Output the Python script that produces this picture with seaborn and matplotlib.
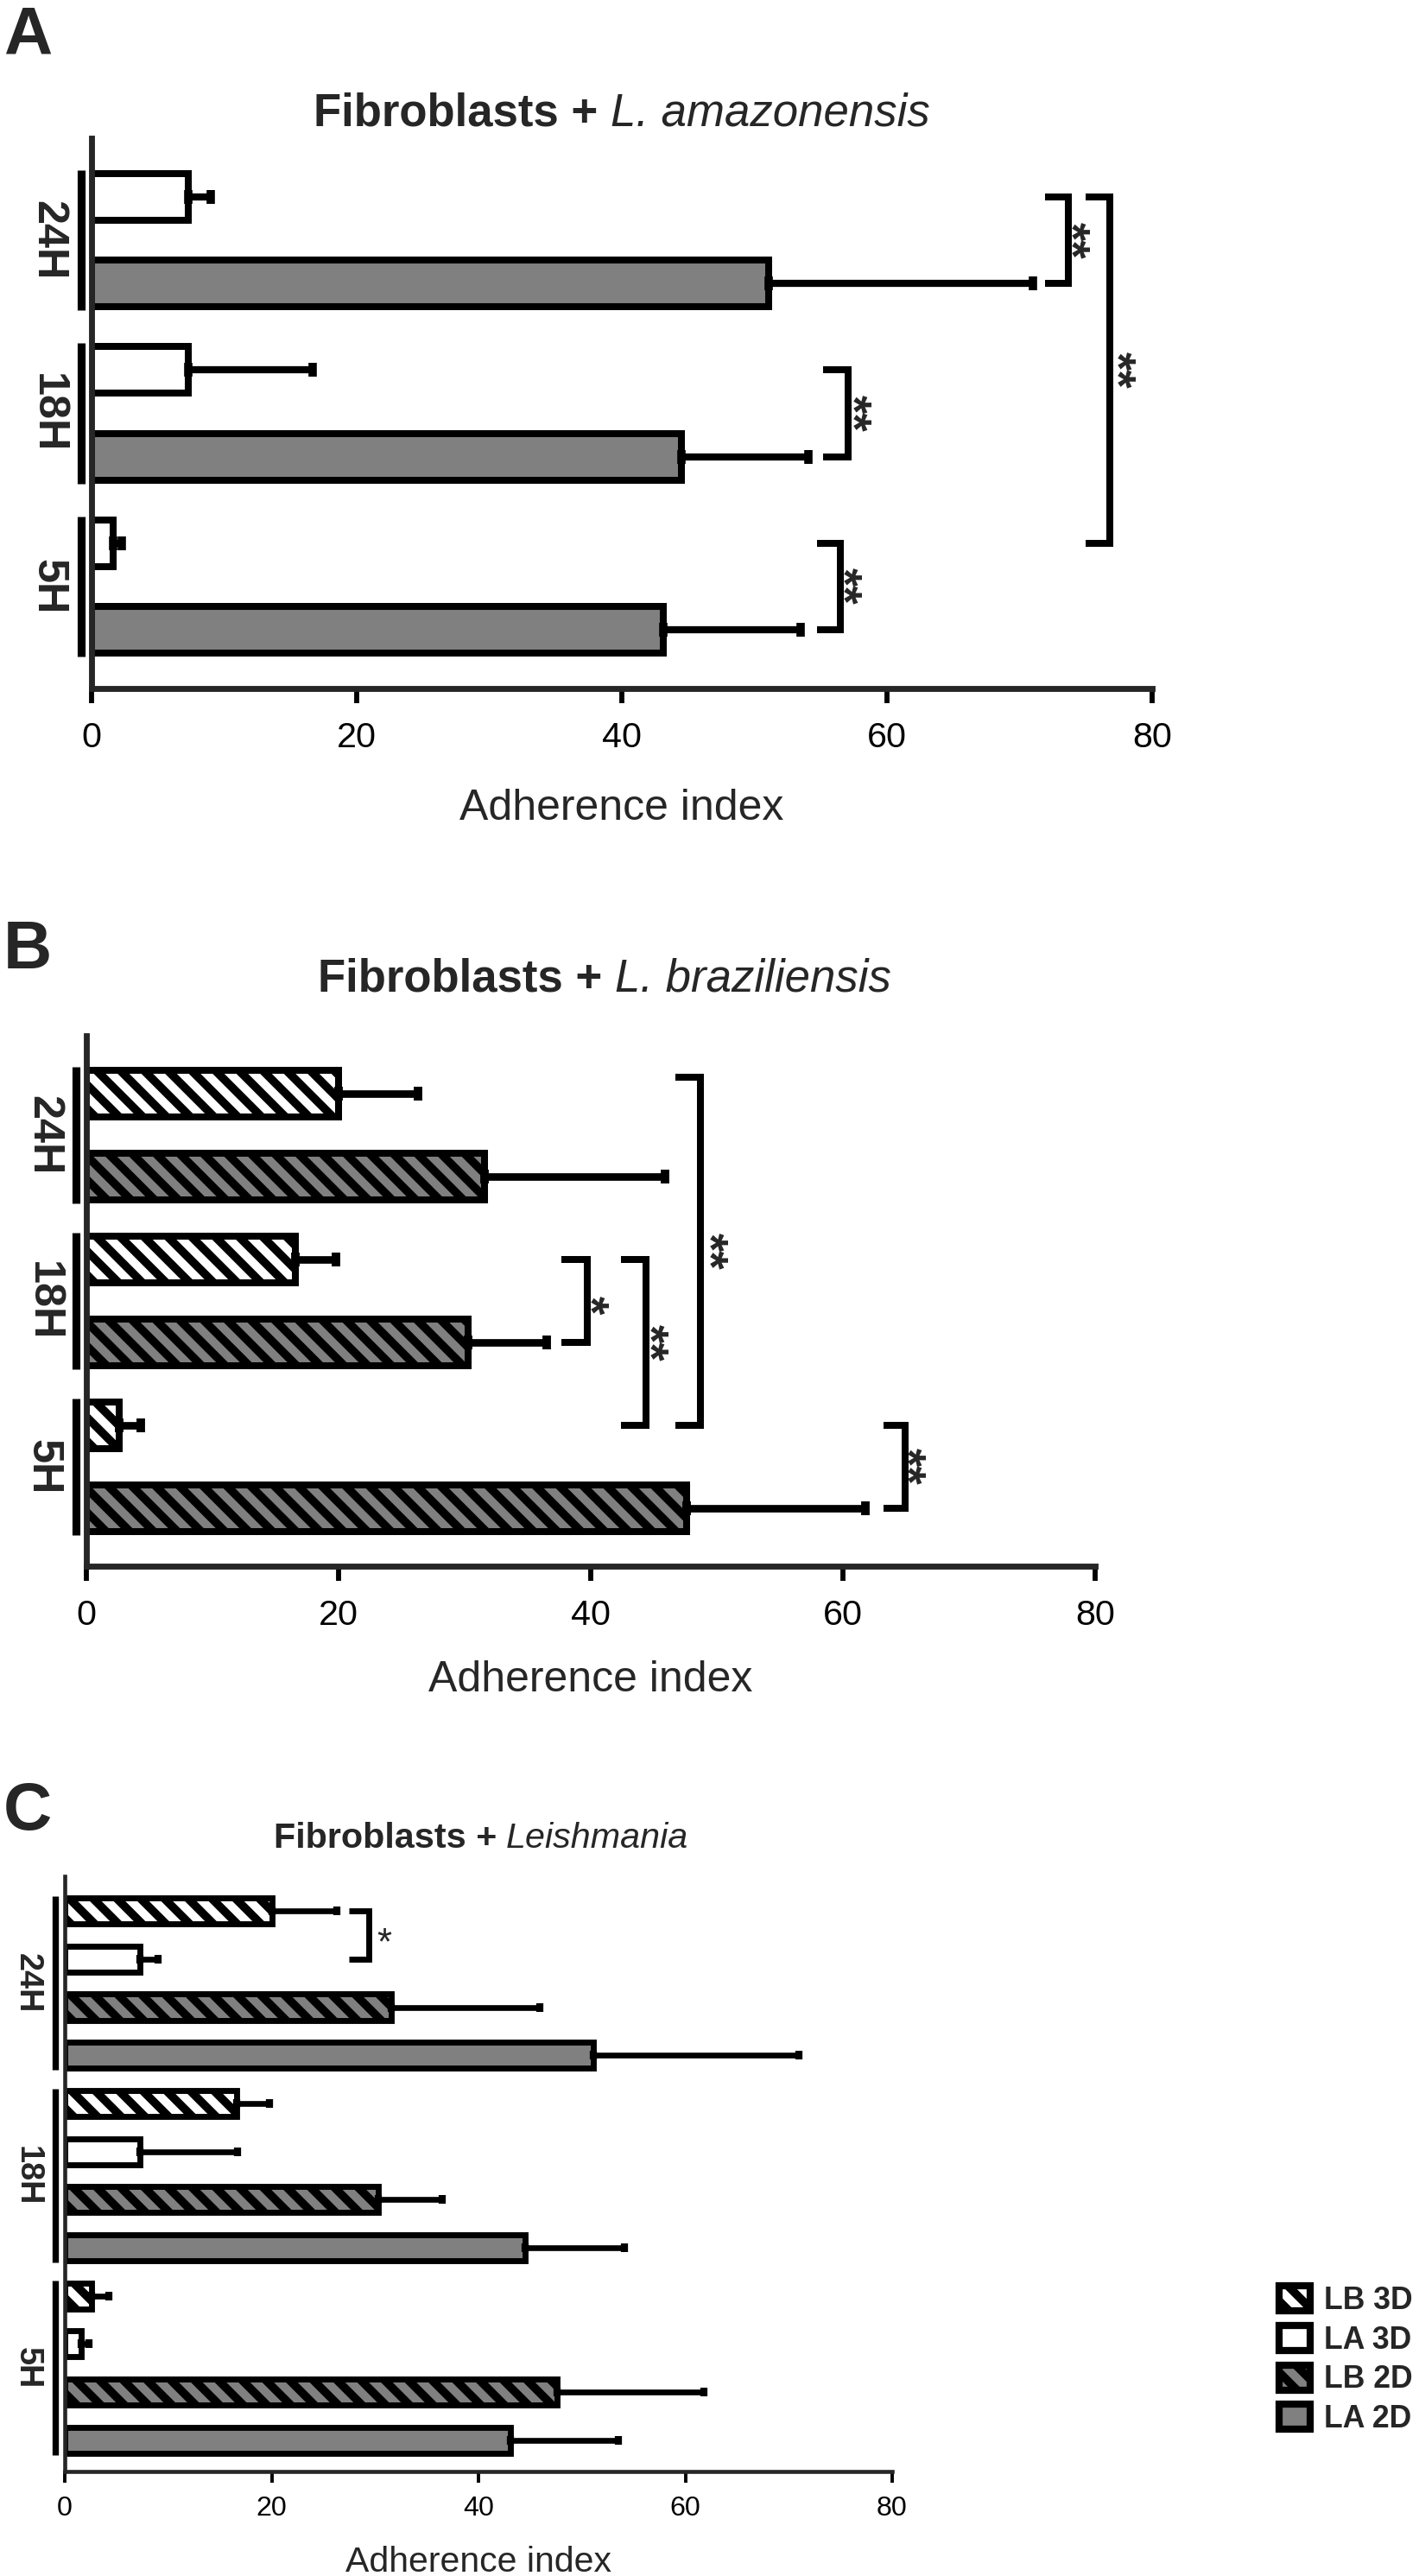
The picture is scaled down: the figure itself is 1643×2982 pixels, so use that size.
import numpy as np
import pandas as pd
import matplotlib
matplotlib.use("Agg")
import matplotlib.pyplot as plt
import matplotlib.transforms as mtransforms
from matplotlib.patches import Patch
import seaborn as sns

# ---------------- data ----------------
times = ["24H", "18H", "5H"]
xticks = [0, 20, 40, 60, 80]
xlabel = "Adherence index"

la3d_mean = [7.3, 7.3, 1.6]
la3d_sd = [1.7, 9.4, 0.7]
la2d_mean = [51.1, 44.5, 43.1]
la2d_sd = [19.9, 9.6, 10.4]
lb3d_mean = [20.0, 16.6, 2.6]
lb3d_sd = [6.3, 3.2, 1.7]
lb2d_mean = [31.6, 30.3, 47.6]
lb2d_sd = [14.3, 6.2, 14.2]

series_names = ["LB 3D", "LA 3D", "LB 2D", "LA 2D"]

# ---------------- styles ----------------
W, H, DPI = 1643, 2982, 165
GRAY = "#808080"
HATCH = "\\\\"
STYLE = {"LB 3D": ("white", HATCH), "LA 3D": ("white", ""),
         "LB 2D": (GRAY, HATCH), "LA 2D": (GRAY, "")}

sns.set_style("ticks")
plt.rcParams["font.family"] = ["Liberation Sans", "DejaVu Sans"]
plt.rcParams["hatch.linewidth"] = 4.2
plt.rcParams["hatch.color"] = "black"

fig = plt.figure(figsize=(W / DPI, H / DPI), dpi=DPI)


def rect(l, t, r, b):
    return [l / W, 1 - b / H, (r - l) / W, (b - t) / H]


def panel(ax, series, means, sds, groups, width, lw_bar, lw_err, cap, capthick,
          lw_spine, tick_len, tick_pad, tick_fs, ymargins, group_x, label_x,
          group_lw, group_fs, xl_fs, xl_y):
    n = len(means)
    keys = [f"{s}|{i}" for i, s in enumerate(series)]
    df = pd.DataFrame({"bar": keys, "value": means})
    sns.barplot(data=df, x="value", y="bar", order=keys, orient="h", width=width,
                color="white", saturation=1, edgecolor="black", linewidth=lw_bar,
                errorbar=None, ax=ax)
    for patch, s in zip(ax.patches, series):
        fc, h = STYLE[s]
        patch.set_facecolor(fc)
        patch.set_hatch(h)
        patch.set_edgecolor("black")
    pos = np.arange(n)
    ax.errorbar(means, pos, xerr=[np.zeros(n), sds], fmt="none", ecolor="black",
                elinewidth=lw_err, capsize=cap, capthick=capthick, zorder=3)
    ax.set_xlim(0, 80)
    ax.set_ylim(n - 1 + ymargins[1], -ymargins[0])
    ax.set_xticks(xticks)
    ax.set_xticklabels([str(t) for t in xticks])
    ax.set_yticks([])
    ax.set_ylabel("")
    ax.set_xlabel(xlabel, fontsize=xl_fs, va="baseline")
    ax.xaxis.set_label_coords(0.5, xl_y)
    for sp in ["top", "right"]:
        ax.spines[sp].set_visible(False)
    for sp in ["left", "bottom"]:
        ax.spines[sp].set_linewidth(lw_spine)
        ax.spines[sp].set_capstyle("projecting")
    ax.tick_params(axis="x", length=tick_len, width=lw_spine * 0.85, pad=tick_pad,
                   labelsize=tick_fs, color="black", labelcolor="black")
    trans = mtransforms.blended_transform_factory(ax.transAxes, ax.transData)
    half = width / 2 + 0.04
    for name, (i0, i1) in zip(times, groups):
        ax.plot([group_x, group_x], [i0 - half, i1 + half], transform=trans,
                clip_on=False, color="black", lw=group_lw, solid_capstyle="butt")
        ax.text(label_x, (i0 + i1) / 2, name, transform=trans, rotation=270,
                ha="center", va="center", fontsize=group_fs, fontweight="bold")


def bracket(ax, y1, y2, xl, xv, lw):
    ax.plot([xl, xv, xv, xl], [y1, y1, y2, y2], color="black", lw=lw,
            clip_on=False, solid_joinstyle="miter", solid_capstyle="butt", zorder=4)


def stars(ax, txt, x, y, fs, rot=270, weight="bold"):
    if rot == 270:
        ax.annotate(txt, xy=(x, y), xytext=(-0.32 * fs, 0), textcoords="offset points",
                    rotation=270, ha="center", va="center", fontsize=fs,
                    fontweight=weight, annotation_clip=False)
    else:
        ax.annotate(txt, xy=(x, y), xytext=(0, -0.32 * fs), textcoords="offset points",
                    ha="center", va="center", fontsize=fs, fontweight=weight,
                    annotation_clip=False)


def title(cx_px, base_px, bold_txt, ital_txt, fs):
    t1 = fig.text(0, 1 - base_px / H, bold_txt, fontsize=fs, fontweight="bold",
                  va="baseline", ha="left")
    t2 = fig.text(0, 1 - base_px / H, ital_txt, fontsize=fs, fontstyle="italic",
                  va="baseline", ha="left")
    r = fig.canvas.get_renderer()
    w1 = t1.get_window_extent(r).width
    w2 = t2.get_window_extent(r).width
    sp = 0.278 * fs * DPI / 72
    x0 = cx_px - (w1 + sp + w2) / 2
    t1.set_x(x0 / W)
    t2.set_x((x0 + w1 + sp) / W)


def letter(txt, base_px):
    fig.text(4 / W, 1 - base_px / H, txt, fontsize=34, fontweight="bold",
             va="baseline", ha="left")


# ---------------- panel A ----------------
axA = fig.add_axes(rect(106, 160, 1334, 797))
serA, mA, sA = [], [], []
for i in range(3):
    serA += ["LA 3D", "LA 2D"]
    mA += [la3d_mean[i], la2d_mean[i]]
    sA += [la3d_sd[i], la2d_sd[i]]
panel(axA, serA, mA, sA, [(0, 1), (2, 3), (4, 5)], width=0.54, lw_bar=3.5,
      lw_err=3.6, cap=3.4, capthick=4.2, lw_spine=3.0, tick_len=7.4, tick_pad=9,
      tick_fs=18, ymargins=(0.68, 0.68), group_x=-0.0098, label_x=-0.0415,
      group_lw=4.0, group_fs=22, xl_fs=21.8, xl_y=-(949 - 797) / 637)
for y1, y2, xl, xv in [(0, 1, 71.9, 73.7), (0, 4, 75.0, 76.8), (2, 3, 55.2, 57.1),
                       (4, 5, 54.7, 56.5)]:
    bracket(axA, y1, y2, xl, xv, 3.5)
for x, y in [(74.9, 0.5), (78.3, 2.0), (58.4, 2.5), (57.7, 4.5)]:
    stars(axA, "**", x, y, 24)
letter("A", 63)
title(720, 146, "Fibroblasts +", "L. amazonensis", 23)

# ---------------- panel B ----------------
axB = fig.add_axes(rect(100, 1199, 1268, 1813))
serB, mB, sB = [], [], []
for i in range(3):
    serB += ["LB 3D", "LB 2D"]
    mB += [lb3d_mean[i], lb2d_mean[i]]
    sB += [lb3d_sd[i], lb2d_sd[i]]
panel(axB, serB, mB, sB, [(0, 1), (2, 3), (4, 5)], width=0.57, lw_bar=3.5,
      lw_err=3.8, cap=3.4, capthick=4.3, lw_spine=3.0, tick_len=7.4, tick_pad=9,
      tick_fs=18, ymargins=(0.7, 0.7), group_x=-0.0107, label_x=-0.043,
      group_lw=4.0, group_fs=22, xl_fs=21.8, xl_y=-(1958 - 1813) / 614)
for y1, y2, xl, xv in [(2, 3, 37.7, 39.7), (2, 4, 42.4, 44.4), (-0.2, 4, 46.7, 48.7),
                       (4, 5, 63.2, 64.9)]:
    bracket(axB, y1, y2, xl, xv, 3.5)
stars(axB, "*", 41.0, 2.55, 24)
for x, y in [(45.7, 3.0), (50.4, 1.9), (66.1, 4.5)]:
    stars(axB, "**", x, y, 24)
letter("B", 1121)
title(700, 1147, "Fibroblasts +", "L. braziliensis", 23)

# ---------------- panel C ----------------
axC = fig.add_axes(rect(75, 2172, 1033, 2861))
serC, mC, sC = [], [], []
for i in range(3):
    serC += ["LB 3D", "LA 3D", "LB 2D", "LA 2D"]
    mC += [lb3d_mean[i], la3d_mean[i], lb2d_mean[i], la2d_mean[i]]
    sC += [lb3d_sd[i], la3d_sd[i], lb2d_sd[i], la2d_sd[i]]
panel(axC, serC, mC, sC, [(0, 3), (4, 7), (8, 11)], width=0.54, lw_bar=3.0,
      lw_err=2.9, cap=2.2, capthick=3.6, lw_spine=2.0, tick_len=5.7, tick_pad=6.5,
      tick_fs=14, ymargins=(0.72, 0.65), group_x=-0.0115, label_x=-0.045,
      group_lw=3.2, group_fs=16.5, xl_fs=17.9, xl_y=-(2977 - 2861) / 689)
bracket(axC, 0, 1, 27.5, 29.4, 3.0)
stars(axC, "*", 30.9, 0.45, 19, rot=0, weight="normal")
letter("C", 2118)
title(557, 2139, "Fibroblasts +", "Leishmania", 18)

handles = [Patch(facecolor=STYLE[s][0], hatch=STYLE[s][1], edgecolor="black",
                 linewidth=3.6, label=s) for s in series_names]
fig.legend(handles=handles, loc="center left", bbox_to_anchor=(1481 / W, 1 - 2732 / H),
           frameon=False, prop={"weight": "bold", "size": 15.5}, handlelength=1.0,
           handleheight=0.88, handletextpad=0.45, labelspacing=0.3, borderpad=0,
           borderaxespad=0)

fig.savefig("out.png", dpi=DPI, facecolor="white")
